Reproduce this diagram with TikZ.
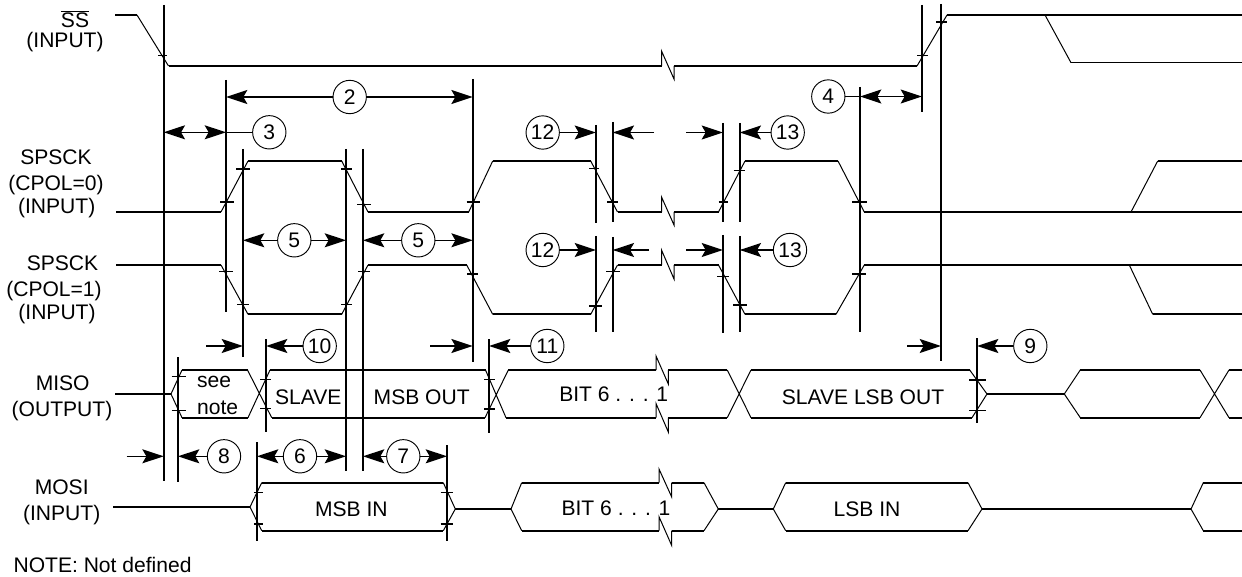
\documentclass[tikz,border=0pt]{standalone}
\usepackage{fontspec}
\setmainfont{Liberation Sans}
\usetikzlibrary{arrows.meta}
\tikzset{
  x=0.75pt, y=-0.75pt,
  hl/.style={line width=1.2pt, line join=miter},
  sl/.style={line width=0.75pt, line join=miter},
  vl/.style={line width=1.35pt},
  tk/.style={line width=1pt},
  dimr/.style={line width=1.05pt, -{Stealth[length=16pt,width=10.5pt,inset=3pt]}},
  dimb/.style={line width=1.05pt, {Stealth[length=16pt,width=10.5pt,inset=3pt]}-{Stealth[length=16pt,width=10.5pt,inset=3pt]}},
  num/.style={circle, draw, line width=0.7pt, minimum size=25pt, inner sep=0pt, font=\fontsize{15.8}{18}\selectfont},
  lab/.style={anchor=base, inner sep=0pt, font=\fontsize{15.8}{18}\selectfont},
}
\begin{document}
\begin{tikzpicture}
\useasboundingbox (0,0) rectangle (1242,577);
% --- text labels
\node[lab] (tSS) at (75,28) {$\overline{\mbox{SS}}$};
\node[lab] (tSSi) at (65,47.7) {(INPUT)};
\node[lab] (tC0) at (56,165) {SPSCK};
\node[lab] (tC0b) at (56,190.7) {(CPOL=0)};
\node[lab] (tC0c) at (56.7,213.3) {(INPUT)};
\node[lab] (tC1) at (62.5,270.7) {SPSCK};
\node[lab] (tC1b) at (54,296.7) {(CPOL=1)};
\node[lab] (tC1c) at (57,320) {(INPUT)};
\node[lab] (tMI) at (62.7,390) {MISO};
\node[lab] (tMIb) at (62,416) {(OUTPUT)};
\node[lab] (tMO) at (61.7,494) {MOSI};
\node[lab] (tMOb) at (61.7,520) {(INPUT)};
\node[lab,anchor=base west] (tN) at (13.3,572.7) {NOTE: Not defined};
\node[lab] (d1) at (214,387.3) {see};
\node[lab] (d2) at (217.7,414) {note};
\node[lab] (d3) at (308.3,404) {SLAVE};
\node[lab] (d4) at (421.7,404) {MSB OUT};
\node[lab] (d5) at (613.7,401.7) {BIT 6 . . . 1};
\node[lab] (d6) at (863,404) {SLAVE LSB OUT};
\node[lab] (d7) at (351.3,516) {MSB IN};
\node[lab] (d8) at (616,515) {BIT 6 . . . 1};
\node[lab] (d9) at (867,516) {LSB IN};
% --- vertical reference lines
\coordinate (V1) at (163.7,0);
\coordinate (V2) at (226,0);
\coordinate (V3) at (243,0);
\coordinate (V4) at (346,0);
\coordinate (V5) at (363,0);
\coordinate (V6) at (472.7,0);
\coordinate (V7) at (178,0);
\coordinate (V8) at (266,0);
\coordinate (V9) at (257,0);
\coordinate (V10) at (447,0);
\coordinate (V11) at (489,0);
\coordinate (V12) at (596,0);
\coordinate (V13) at (612.7,0);
\coordinate (V14) at (723,0);
\coordinate (V15) at (739.7,0);
\coordinate (V16) at (860,0);
\coordinate (V17) at (922,0);
\coordinate (V18) at (941,0);
\coordinate (V19) at (977,0);
\draw[vl] (163.7,5)--(163.7,480.7) (226,80)--(226,312) (243,149)--(243,357)
  (346,149)--(346,470.7) (363,149)--(363,470.7) (472.7,79)--(472.7,362)
  (178,357)--(178,481.7) (266,339)--(266,432) (257,442)--(257,540.7)
  (447,445)--(447,540.7) (489,339)--(489,432.7)
  (596,125)--(596,223) (596,236)--(596,331.7)
  (612.7,122)--(612.7,221.7) (612.7,237)--(612.7,331.7)
  (723,123)--(723,221.7) (723,235)--(723,332.7)
  (739.7,123)--(739.7,221.7) (739.7,236)--(739.7,331.7)
  (860,87)--(860,331.7) (922,5)--(922,111.7) (941,4)--(941,360.7) (977,338)--(977,423);
% --- SS
\draw[hl] (115,15)--(137,15) (168.5,66)--(661.5,66) (674,66)--(917,66) (947,15)--(1242,15) (1071,62.7)--(1242,62.7);
\draw[sl] (137,15)--(168.5,66) (661.5,66)--(661.5,51)--(674,79)--(674,66) (917,66)--(947,15) (1045,15)--(1071,62.7);
% --- SPSCK CPOL=0
\draw[hl] (116,212)--(221,212) (248,161)--(341.7,161) (368,212)--(468.7,212) (492.7,161)--(590.7,161)
  (617.5,212)--(661.5,212) (674,212)--(718.5,212) (745,161)--(838,161) (864.3,212)--(1242,212) (1157.7,161)--(1242,161);
\draw[sl] (221,212)--(248,161) (341.7,161)--(368,212) (468.7,212)--(492.7,161) (590.7,161)--(617.5,212)
  (661.5,212)--(661.5,197)--(674,225)--(674,212) (718.5,212)--(745,161) (838,161)--(864.3,212) (1131,212)--(1157.7,161);
% --- SPSCK CPOL=1
\draw[hl] (116,265)--(221,265) (248,314.3)--(341.7,314.3) (368,265)--(466.7,265) (492.7,314.3)--(590.7,314.3)
  (617.5,265)--(661.5,265) (674,265)--(718.5,265) (745,314.3)--(836,314.3) (864.3,265)--(1242,265) (1152.7,314.3)--(1242,314.3);
\draw[sl] (221,265)--(248,314.3) (341.7,314.3)--(368,265) (466.7,265)--(492.7,314.3) (590.7,314.3)--(617.5,265)
  (661.5,265)--(661.5,250)--(674,279)--(674,265) (718.5,265)--(745,314.3) (836,314.3)--(864.3,265) (1129.3,265)--(1152.7,314.3);
% --- MISO
\draw[hl] (115,394)--(171,394) (182,370)--(247.5,370) (182,417.7)--(248,417.7)
  (270,370)--(485.5,370) (271.7,417.7)--(485,417.7) (508.3,370)--(656,370) (668.3,370)--(727.3,370) (506,417.7)--(656,417.7) (668.3,417.7)--(727.3,417.7)
  (751,370)--(969.7,370) (751,417.7)--(972,417.7) (987,394)--(1064.3,394)
  (1080.3,370)--(1200,370) (1080.3,417.7)--(1200,417.7) (1229,370)--(1242,370) (1229,417.7)--(1242,417.7);
\draw[sl] (182,370)--(171,394)--(182,417.7) (247.5,370)--(271.7,417.7) (248,417.7)--(270,370)
  (485.5,370)--(506,417.7) (485,417.7)--(508.3,370)
  (656,370)--(656,356)--(668.3,384)--(668.3,370) (656,417.7)--(656,403.5)--(668.3,432)--(668.3,417.7)
  (727.3,370)--(751,417.7) (727.3,417.7)--(751,370)
  (969.7,370)--(987,394)--(972,417.7) (1080.3,370)--(1064.3,394)--(1080.3,417.7)
  (1200,370)--(1229,417.7) (1200,417.7)--(1229,370);
% --- MOSI
\draw[hl] (113,507)--(250,507) (261.7,482.7)--(443.3,482.7) (261.7,530.7)--(443.3,530.7) (455.3,509)--(511,509)
  (521.7,482.7)--(659,482.7) (671.7,482.7)--(704,482.7) (521.7,530.7)--(659,530.7) (671.7,530.7)--(704,530.7)
  (718.3,509)--(773.3,509) (785.7,482.7)--(968,482.7) (785.7,530.7)--(968,530.7) (982,509)--(1191,509)
  (1203.3,482.7)--(1242,482.7) (1203.3,530.7)--(1242,530.7);
\draw[sl] (261.7,482.7)--(250,507)--(261.7,530.7) (443.3,482.7)--(455.3,509)--(443.3,530.7)
  (521.7,482.7)--(511,509)--(521.7,530.7)
  (659,482.7)--(659,469)--(671.7,497)--(671.7,482.7) (659,530.7)--(659,516.7)--(671.7,545.5)--(671.7,530.7)
  (704,482.7)--(718.3,509)--(704,530.7) (785.7,482.7)--(773.3,509)--(785.7,530.7)
  (968,482.7)--(982,509)--(968,530.7) (1203.3,482.7)--(1191,509)--(1203.3,530.7);
% --- ticks
\draw[tk] (158.3,55.5)--(166.7,55.5)
  (220,202)--(234,202) (236,169)--(250,169) (341,169)--(352,169) (357,204.7)--(371,204.7) (466.5,202)--(480,202)
  (589,168.7)--(599,168.7) (607,202)--(618,202) (718.5,202)--(728,202) (733.5,170.7)--(745,170.7) (852,202)--(866.7,202)
  (219,271.7)--(233,271.7) (237,304.7)--(249,304.7) (341,304.7)--(352,304.7) (358,271.7)--(370,271.7) (467,274)--(478,274)
  (589,306)--(602,306) (606,271.7)--(620,271.7) (717,276.7)--(729,276.7) (733,305)--(747,305) (852,274)--(866,274)
  (171.7,376.7)--(185.7,376.7) (171.7,410.7)--(185.7,410.7) (260,379.5)--(271,379.5) (260,408.5)--(271,408.5)
  (484.3,379.5)--(495,379.5) (484.3,409)--(495,409) (969.3,380)--(986,380) (969.3,410.7)--(986,410.7)
  (254,492.3)--(262.7,492.3) (254,524)--(262.7,524) (440.7,492.3)--(453.3,492.3) (440.7,524)--(453.3,524)
  (917,55.5)--(927.5,55.5) (936,22)--(947,22);
% --- numbered circles
\node[num] (c2) at (349.7,97) {2};
\node[num] (c3) at (269.3,132.3) {3};
\node[num] (c4) at (828.3,96.5) {4};
\node[num] (c5a) at (294.3,240.3) {5};
\node[num] (c5b) at (418.3,240.3) {5};
\node[num] (c6) at (300,456.3) {6};
\node[num] (c7) at (403.3,456.3) {7};
\node[num] (c8) at (224,456.3) {8};
\node[num] (c9) at (1030.3,346) {9};
\node[num] (c10) at (319.7,346) {10};
\node[num] (c11) at (547.3,346) {11};
\node[num] (c12a) at (542.7,132.5) {12};
\node[num] (c12b) at (542.7,250) {12};
\node[num] (c13a) at (787.7,132.5) {13};
\node[num] (c13b) at (790,250) {13};
% --- free arrow ends
\coordinate (f1) at (654,132.5);
\coordinate (f2) at (686,132.5);
\coordinate (f3) at (649,250);
\coordinate (f4) at (686,250);
\coordinate (f5) at (206,346);
\coordinate (f6) at (430,346);
\coordinate (f7) at (907,346);
\coordinate (f8) at (126.7,456.3);
% --- dimension arrows
\draw[dimr] (c2)--(c2 -| V2);
\draw[dimr] (c2)--(c2 -| V6);
\draw[dimb] (c3 -| V1)--(c3 -| V2);
\draw[line width=1.05pt] (c3 -| V2)--(c3);
\draw[line width=1.05pt] (c4)--(c4 -| V16);
\draw[dimb] (c4 -| V16)--(c4 -| V17);
\draw[dimr] (c5a)--(c5a -| V3);
\draw[dimr] (c5a)--(c5a -| V4);
\draw[dimr] (c5b)--(c5b -| V5);
\draw[dimr] (c5b)--(c5b -| V6);
\draw[dimr] (c6)--(c6 -| V9);
\draw[dimr] (c6)--(c6 -| V4);
\draw[dimr] (c7)--(c7 -| V5);
\draw[dimr] (c7)--(c7 -| V10);
\draw[dimr] (c8)--(c8 -| V7);
\draw[dimr] (c9)--(c9 -| V19);
\draw[dimr] (c10)--(c10 -| V8);
\draw[dimr] (c11)--(c11 -| V11);
\draw[dimr] (c12a)--(c12a -| V12);
\draw[dimr] (c12b)--(c12b -| V12);
\draw[dimr] (c13a)--(c13a -| V15);
\draw[dimr] (c13b)--(c13b -| V15);
\draw[dimr] (f1)--(f1 -| V13);
\draw[dimr] (f2)--(f2 -| V14);
\draw[dimr] (f3)--(f3 -| V13);
\draw[dimr] (f4)--(f4 -| V14);
\draw[dimr] (f5)--(f5 -| V3);
\draw[dimr] (f6)--(f6 -| V6);
\draw[dimr] (f7)--(f7 -| V18);
\draw[dimr] (f8)--(f8 -| V1);
\end{tikzpicture}
\end{document}
